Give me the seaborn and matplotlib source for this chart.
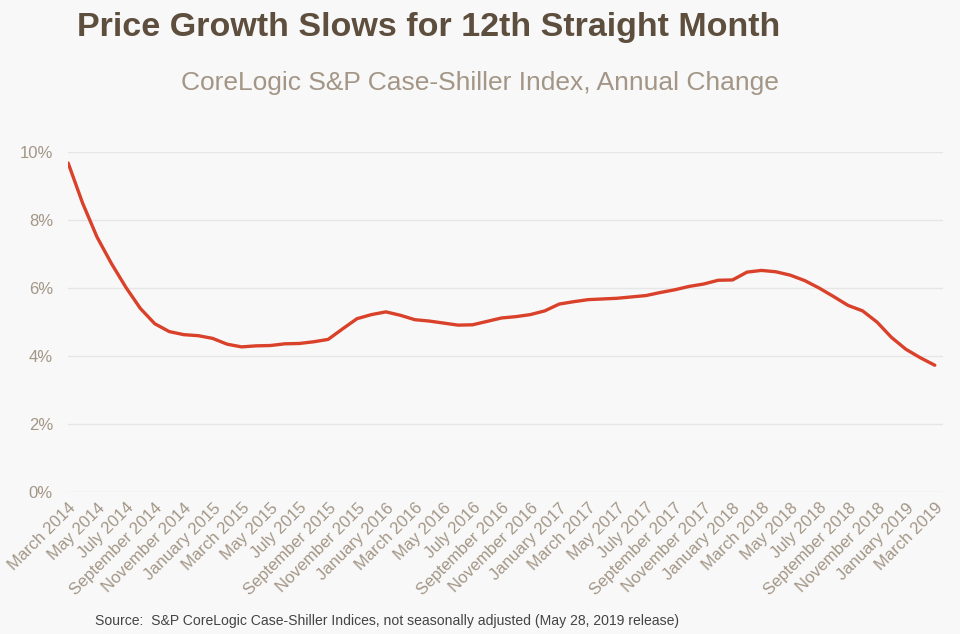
import numpy as np
import pandas as pd
import seaborn as sns
import matplotlib.pyplot as plt

# monthly annual change, March 2014 .. March 2019
months = pd.date_range('2014-03-01', '2019-03-01', freq='MS')
change = [9.68, 8.50, 7.50, 6.72, 6.02, 5.40, 4.95, 4.72, 4.63, 4.60,
          4.52, 4.35, 4.27, 4.30, 4.31, 4.36, 4.37, 4.42, 4.49, 4.80,
          5.10, 5.22, 5.30, 5.20, 5.07, 5.03, 4.97, 4.91, 4.92, 5.02,
          5.12, 5.16, 5.22, 5.33, 5.53, 5.60, 5.66, 5.68, 5.70, 5.74,
          5.78, 5.87, 5.95, 6.05, 6.12, 6.23, 6.24, 6.47, 6.52, 6.48,
          6.38, 6.22, 6.00, 5.75, 5.49, 5.33, 5.00, 4.55, 4.20, 3.95,
          3.73]
yticks = [0, 2, 4, 6, 8, 10]

df = pd.DataFrame({'idx': np.arange(len(months)), 'change': change})
labels = [m.strftime('%B %Y') for m in months]

sns.set_theme(style='white')
plt.rcParams['font.family'] = ['Liberation Sans', 'DejaVu Sans']

tan = '#a39686'
fig = plt.figure(figsize=(9.6, 6.34), dpi=100, facecolor='#f8f8f8')
ax = fig.add_axes([0.071, 0.224, 0.911, 0.536])
ax.set_facecolor('#f8f8f8')

sns.lineplot(data=df, x='idx', y='change', color='#d9412b', linewidth=2.4, ax=ax)

ax.set_xlim(0, 60.55)
ax.set_ylim(0, 10)
ax.set_yticks(yticks)
ax.set_yticklabels([f'{v}%' for v in yticks], color=tan, fontsize=12)
ax.yaxis.grid(True, color='#e6e6e6', linewidth=1)
ax.set_xticks(df['idx'][::2])
ax.set_xticklabels(labels[::2], rotation=45, ha='right', rotation_mode='anchor',
                   color=tan, fontsize=12)
ax.tick_params(axis='x', length=0, pad=6)
ax.tick_params(axis='y', length=0, pad=11)
ax.set_xlabel('')
ax.set_ylabel('')
for s in ax.spines.values():
    s.set_visible(False)

fig.text(0.447, 0.957, 'Price Growth Slows for 12th Straight Month', ha='center', va='center',
         fontsize=24.5, fontweight='bold', color='#5e4e3e')
fig.text(0.5, 0.869, 'CoreLogic S&P Case-Shiller Index, Annual Change', ha='center', va='center',
         fontsize=19, color=tan)
fig.text(0.099, 0.02, 'Source:  S&P CoreLogic Case-Shiller Indices, not seasonally adjusted (May 28, 2019 release)',
         ha='left', va='center', fontsize=10.1, color='#444444')

fig.savefig('out.png', dpi=100, facecolor=fig.get_facecolor())
